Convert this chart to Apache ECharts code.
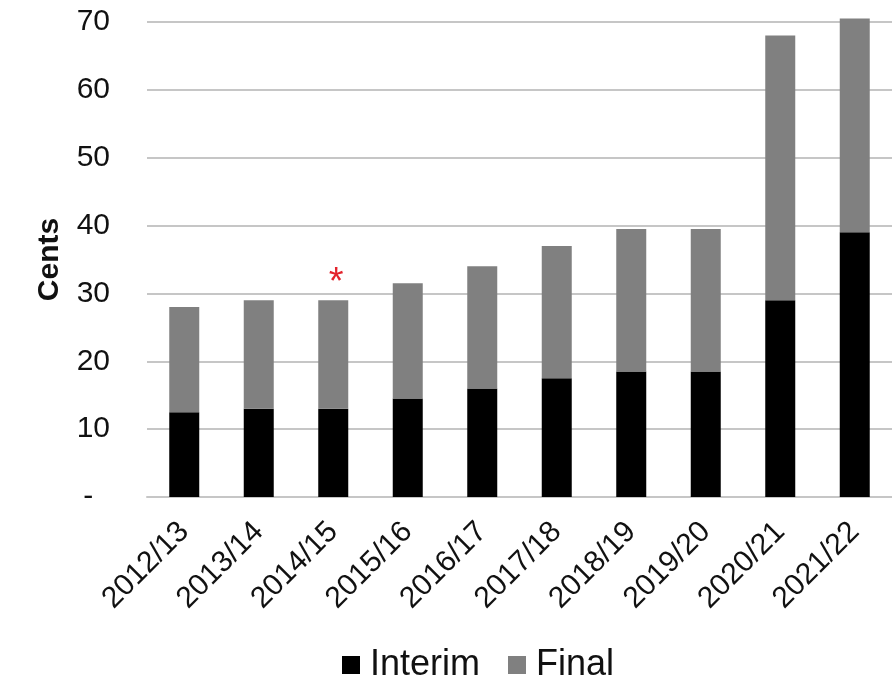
<!DOCTYPE html>
<html>
<head>
<meta charset="utf-8">
<script src="https://cdn.jsdelivr.net/npm/echarts@6/dist/echarts.min.js"></script>
<style>
  html, body { margin: 0; padding: 0; background: #fff; }
  #chart { width: 892px; height: 684px; }
</style>
</head>
<body>
<div id="chart"></div>
<script>
const years = ['2012/13', '2013/14', '2014/15', '2015/16', '2016/17',
    '2017/18', '2018/19', '2019/20', '2020/21', '2021/22'];
const interim = [12.5, 13, 13, 14.5, 16, 17.5, 18.5, 18.5, 29, 39];
const finalDiv = [15.5, 16, 16, 17, 18, 19.5, 21, 21, 39, 31.5];
const notes = ['', '', '*', '', '', '', '', '', '', ''];
const yTicks = [0, 10, 20, 30, 40, 50, 60, 70];

const font = '"Liberation Sans", Arial, sans-serif';

// final series carries the red note above the stack
const finalData = finalDiv.map((v, i) => {
    if (!notes[i]) return v;
    return {
        value: v,
        label: {
            show: true,
            position: 'top',
            distance: 0,
            offset: [3, 2],
            formatter: notes[i],
            color: '#e3232c',
            fontSize: 38,
            fontFamily: font,
        },
    };
});

const chart = echarts.init(document.getElementById('chart'));
chart.setOption({
    animation: false,
    grid: { left: 147, top: 22, width: 756, height: 475 },
    legend: {
        data: ['Interim', 'Final'],
        left: 337,
        top: 642,
        itemWidth: 18,
        itemHeight: 18,
        itemGap: 28,
        icon: 'rect',
        textStyle: { fontSize: 36, color: '#111', fontFamily: font, padding: [0, 0, 0, 5] },
    },
    xAxis: {
        type: 'category',
        data: years,
        axisTick: { show: false },
        axisLine: { lineStyle: { color: '#c6c6c6', width: 2 } },
        axisLabel: { rotate: 45, margin: 30, fontSize: 30, color: '#111', fontFamily: font },
    },
    yAxis: {
        type: 'value',
        min: yTicks[0],
        max: yTicks[yTicks.length - 1],
        interval: 10,
        name: 'Cents',
        nameLocation: 'middle',
        nameGap: 82,
        nameTextStyle: { fontSize: 30, fontWeight: 'bold', color: '#111', fontFamily: font },
        axisLine: { show: false },
        axisTick: { show: false },
        splitLine: { lineStyle: { color: '#c6c6c6', width: 2 } },
        axisLabel: {
            margin: 37,
            fontSize: 30,
            color: '#111',
            fontFamily: font,
            formatter: (v) => (v === 0 ? '-  ' : String(v)),
        },
    },
    series: [
        {
            name: 'Interim',
            type: 'bar',
            stack: 'div',
            barWidth: 30,
            clip: false,
            itemStyle: { color: '#000' },
            data: interim,
        },
        {
            name: 'Final',
            type: 'bar',
            stack: 'div',
            barWidth: 30,
            clip: false,
            itemStyle: { color: '#808080' },
            data: finalData,
        },
    ],
});
</script>
</body>
</html>
